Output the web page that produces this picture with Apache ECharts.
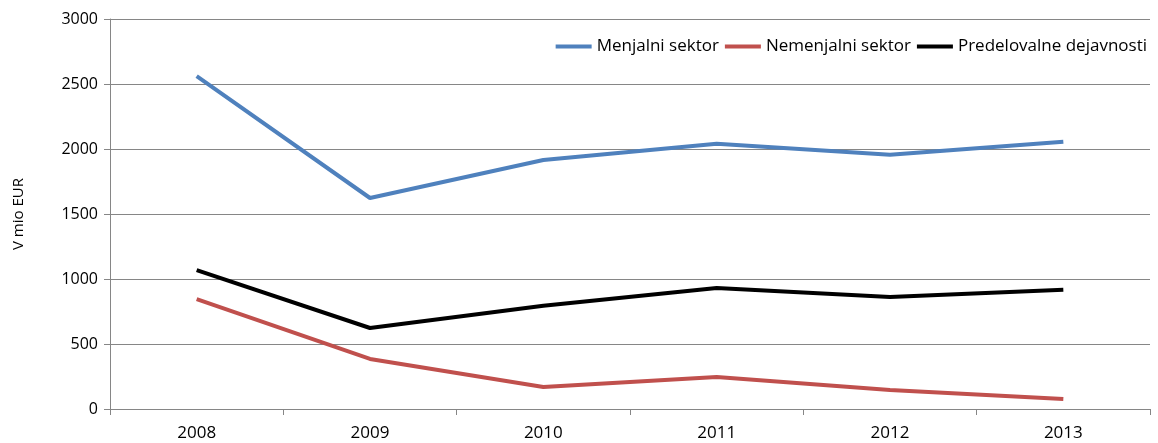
<!DOCTYPE html>
<html>
<head>
<meta charset="utf-8">
<script src="https://cdn.jsdelivr.net/npm/echarts@6/dist/echarts.min.js"></script>
<style>
  html, body { margin: 0; padding: 0; background: #fff; }
  #chart { width: 1158px; height: 443px; }
</style>
</head>
<body>
<div id="chart"></div>
<script>
var years = ["2008", "2009", "2010", "2011", "2012", "2013"];
var menjalni = [2560, 1623, 1915, 2040, 1955, 2055];
var nemenjalni = [846, 385, 169, 246, 146, 77];
var predelovalne = [1069, 623, 795, 931, 862, 918];
var seriesNames = ["Menjalni sektor", "Nemenjalni sektor", "Predelovalne dejavnosti"];

var font = "'Open Sans', 'Liberation Sans', sans-serif";

// one line series per sector
function lineSeries(name, data, color) {
  return {
    name: name,
    type: "line",
    data: data,
    symbol: "none",
    lineStyle: { color: color, width: 4 },
    itemStyle: { color: color }
  };
}

var myChart = echarts.init(document.getElementById("chart"));
myChart.setOption({
  animation: false,
  textStyle: { fontFamily: font },
  grid: { left: 110, right: 8, top: 19, bottom: 34 },
  legend: {
    right: 6,
    top: 33,
    itemWidth: 36,
    itemHeight: 4,
    itemGap: 6,
    icon: "rect",
    textStyle: { fontSize: 17, color: "#000", fontFamily: font },
    data: seriesNames
  },
  xAxis: {
    type: "category",
    data: years,
    boundaryGap: true,
    axisLine: { lineStyle: { color: "#868686" } },
    axisTick: { show: true, length: 6, lineStyle: { color: "#868686" } },
    axisLabel: { fontSize: 17, color: "#000", margin: 16 }
  },
  yAxis: {
    type: "value",
    min: 0,
    max: 3000,
    interval: 500,
    name: "V mio EUR",
    nameLocation: "middle",
    nameGap: 84,
    nameRotate: 90,
    nameTextStyle: { fontSize: 15, color: "#000" },
    axisLine: { show: true, lineStyle: { color: "#868686" } },
    axisTick: { show: true, length: 6, lineStyle: { color: "#868686" } },
    axisLabel: { fontSize: 16, color: "#000", margin: 12, formatter: function (v) { return String(v); } },
    splitLine: { lineStyle: { color: "#868686" } }
  },
  series: [
    lineSeries(seriesNames[0], menjalni, "#4F81BD"),
    lineSeries(seriesNames[1], nemenjalni, "#C0504D"),
    lineSeries(seriesNames[2], predelovalne, "#000000")
  ]
});
</script>
</body>
</html>
